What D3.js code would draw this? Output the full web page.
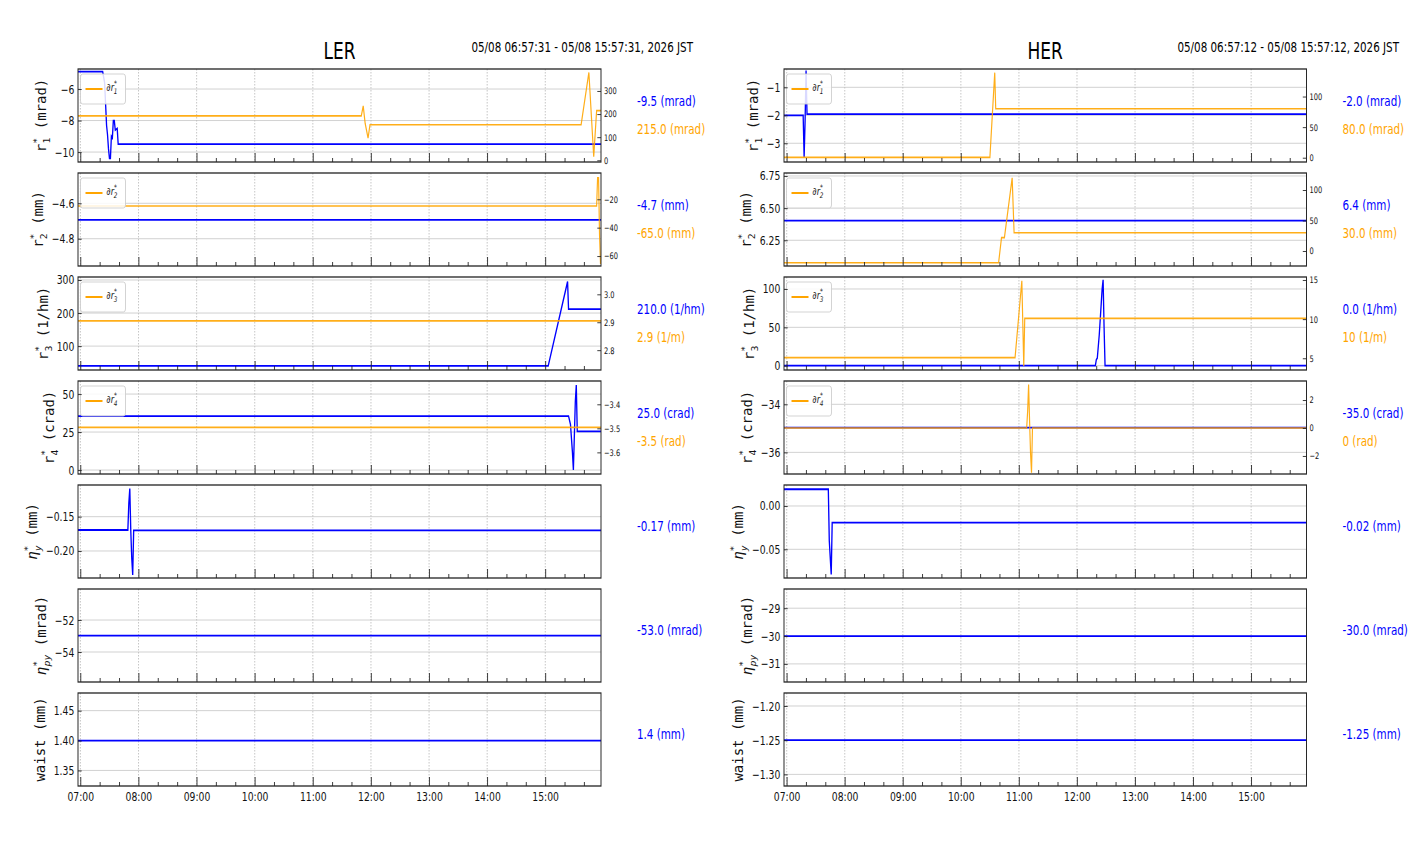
<!DOCTYPE html>
<html>
<head>
<meta charset="utf-8">
<script src="https://cdn.jsdelivr.net/npm/d3@7"></script>
<style>
    body { margin: 0; background: #fff; }
    text { font-family: "DejaVu Sans", sans-serif; }
</style>
</head>
<body>
<svg id="chart"></svg>
<script>
// Data //
const lerRange = ['06:57:31', '15:57:31']
const herRange = ['06:57:12', '15:57:12']
const lerDate = '05/08 06:57:31 - 05/08 15:57:31, 2026 JST'
const herDate = '05/08 06:57:12 - 05/08 15:57:12, 2026 JST'

// LER, blue = left axis, orange = twin axis
const lerR1 = [['06:57', -4.9], ['07:23', -4.9], ['07:25', -5.6], ['07:27', -8.3], ['07:28', -8.9],
    ['07:29', -9.8], ['07:30', -10.4], ['07:31', -10.4], ['07:32', -9.0], ['07:33', -9.1],
    ['07:34', -8.0], ['07:35', -8.0], ['07:36', -8.6], ['07:38', -8.5], ['07:39', -9.5], ['15:58', -9.5]]
const lerDR1 = [['06:57', 192], ['11:50', 192], ['11:52', 235], ['11:54', 160], ['11:57', 96],
    ['11:59', 154], ['15:37', 154], ['15:45', 380], ['15:50', 16], ['15:53', 215], ['15:58', 215]]
const lerR2 = [['06:57', -4.694], ['15:58', -4.694]]
const lerDR2 = [['06:57', -24.7], ['15:53', -24.7], ['15:54', -4.8], ['15:55', -4.8], ['15:56', -45],
    ['15:57', -65], ['15:58', -65]]
const lerR3 = [['06:57', 40], ['15:03', 40], ['15:23', 295], ['15:24', 212], ['15:58', 212]]
const lerDR3 = [['06:57', 2.905], ['15:58', 2.905]]
const lerR4 = [['06:57', 35.5], ['15:24', 35.5], ['15:26', 30], ['15:28', 12], ['15:29', 0],
    ['15:31', 45], ['15:32', 56], ['15:33', 25.5], ['15:58', 25.5]]
const lerDR4 = [['06:57', -3.496], ['15:58', -3.496]]
const lerEtaY = [['06:57', -0.1694], ['07:49', -0.1694], ['07:50', -0.13], ['07:51', -0.109], ['07:52', -0.17],
    ['07:53', -0.21], ['07:54', -0.235], ['07:55', -0.17], ['15:58', -0.17]]
const lerEtaPy = [['06:57', -52.98], ['15:58', -52.98]]
const lerWaist = [['06:57', 1.40], ['15:58', 1.40]]

// HER
const herR1 = [['06:57', -2.0], ['07:17', -2.0], ['07:18', -3.5], ['07:19', -2.2], ['07:20', -0.4],
    ['07:21', -1.96], ['15:58', -1.96]]
const herDR1 = [['06:57', 0.5], ['10:30', 0.5], ['10:35', 139], ['10:36', 80], ['15:58', 80]]
const herR2 = [['06:57', 6.402], ['15:58', 6.402]]
const herDR2 = [['06:57', -19.2], ['10:39', -19.2], ['10:42', 22], ['10:45', 22], ['10:53', 120],
    ['10:55', 30], ['15:58', 30]]
const herR3 = [['06:57', 0], ['12:19', 0], ['12:20', 8], ['12:21', 10], ['12:23', 40], ['12:25', 80],
    ['12:26', 100], ['12:27', 112], ['12:28', 50], ['12:29', 0], ['15:58', 0]]
const herDR3 = [['06:57', 5.08], ['10:56', 5.08], ['11:03', 14.9], ['11:05', 4.0], ['11:06', 10.1], ['15:58', 10.1]]
const herR4 = [['06:57', -34.97], ['15:58', -34.97]]
const herDR4 = [['06:57', 0], ['11:08', 0], ['11:09', 1.2], ['11:10', 3.1], ['11:11', 0.5], ['11:12', -1.8],
    ['11:13', -3.2], ['11:14', 0], ['15:58', 0]]
const herEtaY = [['06:57', 0.0193], ['07:43', 0.0193], ['07:44', -0.04], ['07:45', -0.06], ['07:46', -0.079],
    ['07:47', -0.0192], ['15:58', -0.0192]]
const herEtaPy = [['06:57', -30], ['15:58', -30]]
const herWaist = [['06:57', -1.25], ['15:58', -1.25]]

// Axis limits and ticks
const lerLeftLimits = [[-10.63, -4.73], [-4.954, -4.429], [27.7, 309], [-2.6, 58.6], [-0.2394, -0.1038], [-55.875, -50.06], [1.324, 1.4795]]
const lerRightLimits = [[-7.4, 395], [-67, -1.5], [2.729, 3.062], [-3.69, -3.303]]
const herLeftLimits = [[-3.67, -0.346], [6.05, 6.773], [-5.6, 115.6], [-36.9, -33.03], [-0.0831, 0.0242], [-31.65, -28.31], [-1.317, -1.181]]
const herRightLimits = [[-7, 145], [-24.6, 127.9], [3.5, 15.38], [-3.29, 3.36]]

const lerLeftTicks = [[-10, -8, -6], [-4.8, -4.6], [100, 200, 300], [0, 25, 50], [-0.20, -0.15], [-54, -52], [1.35, 1.40, 1.45]]
const lerLeftFormats = ['d', '.1f', 'd', 'd', '.2f', 'd', '.2f']
const lerRightTicks = [[0, 100, 200, 300], [-60, -40, -20], [2.8, 2.9, 3.0], [-3.6, -3.5, -3.4]]
const lerRightFormats = ['d', 'd', '.1f', '.1f']
const herLeftTicks = [[-3, -2, -1], [6.25, 6.5, 6.75], [0, 50, 100], [-36, -34], [-0.05, 0], [-31, -30, -29], [-1.30, -1.25, -1.20]]
const herLeftFormats = ['d', '.2f', 'd', 'd', '.2f', 'd', '.2f']
const herRightTicks = [[0, 50, 100], [0, 50, 100], [5, 10, 15], [-2, 0, 2]]
const herRightFormats = ['d', 'd', 'd', 'd']

// Labels
const yLabelBase = ['r', 'r', 'r', 'r', 'η', 'η', 'waist']
const yLabelSub = ['1', '2', '3', '4', 'y', 'py', '']
const yLabelUnit = ['mrad', 'mm', '1/hm', 'crad', 'mm', 'mrad', 'mm']
const lerBlueValues = ['-9.5 (mrad)', '-4.7 (mm)', '210.0 (1/hm)', '25.0 (crad)', '-0.17 (mm)', '-53.0 (mrad)', '1.4 (mm)']
const lerOrangeValues = ['215.0 (mrad)', '-65.0 (mm)', '2.9 (1/m)', '-3.5 (rad)']
const herBlueValues = ['-2.0 (mrad)', '6.4 (mm)', '0.0 (1/hm)', '-35.0 (crad)', '-0.02 (mm)', '-30.0 (mrad)', '-1.25 (mm)']
const herOrangeValues = ['80.0 (mrad)', '30.0 (mm)', '10 (1/m)', '0 (rad)']

// Layout //
// the original figure is squashed horizontally, so draw wide and scale x
const SX = 0.74
const vx = px => px / SX
const PANEL_TOP = 69
const PANEL_STEP = 104
const PANEL_H = 93
const BLUE = '#0000ff'
const ORANGE = '#ffa500'

const svg = d3.select('#chart').attr('width', 1412).attr('height', 864)
const root = svg.append('g').attr('transform', `scale(${SX},1)`)

const parseTime = s => d3.timeParse(s.length > 5 ? '%H:%M:%S' : '%H:%M')(s)

const columns = [
    {
        name: 'LER', range: lerRange, date: lerDate, left: vx(78), right: vx(601), dateRight: vx(693),
        blue: [lerR1, lerR2, lerR3, lerR4, lerEtaY, lerEtaPy, lerWaist],
        orange: [lerDR1, lerDR2, lerDR3, lerDR4],
        leftLimits: lerLeftLimits, rightLimits: lerRightLimits,
        leftTicks: lerLeftTicks, leftFormats: lerLeftFormats,
        rightTicks: lerRightTicks, rightFormats: lerRightFormats,
        blueValues: lerBlueValues, orangeValues: lerOrangeValues,
    },
    {
        name: 'HER', range: herRange, date: herDate, left: vx(784), right: vx(1306.5), dateRight: vx(1399),
        blue: [herR1, herR2, herR3, herR4, herEtaY, herEtaPy, herWaist],
        orange: [herDR1, herDR2, herDR3, herDR4],
        leftLimits: herLeftLimits, rightLimits: herRightLimits,
        leftTicks: herLeftTicks, leftFormats: herLeftFormats,
        rightTicks: herRightTicks, rightFormats: herRightFormats,
        blueValues: herBlueValues, orangeValues: herOrangeValues,
    },
]

// Helpers //
const styleAxis = (sel, size) => {
    sel.select('.domain').remove()
    sel.attr('font-family', null).attr('font-size', null)
    sel.selectAll('line').attr('stroke', '#222')
    sel.selectAll('text').attr('font-size', size).style('fill', '#111')
}

const appendScripted = (text, base, sub, size, italic) => {
    text.append('tspan').attr('font-style', italic ? 'italic' : null).text(base)
    if (sub === '') return
    text.append('tspan').attr('dy', -size * 0.42).attr('font-size', size * 0.7).text('*')
    text.append('tspan').attr('dx', -size * 0.4).attr('dy', size * 0.72)
        .attr('font-size', size * 0.7).attr('font-style', italic ? 'italic' : null).text(sub)
}

const valueLabel = (g, x, y, color, label) => {
    g.append('text')
        .attr('x', x).attr('y', y).attr('dy', '0.35em')
        .attr('font-size', 14).style('fill', color)
        .text(label)
}

// Drawers //
const drawColumn = (col) => {
    const x = d3.scaleTime().domain(col.range.map(parseTime)).range([col.left, col.right])
    const hours = x.ticks(d3.timeHour.every(1))
    const minors = x.ticks(d3.timeMinute.every(20)).filter(d => d.getMinutes() !== 0)
    const line = y => d3.line().x(d => x(parseTime(d[0]))).y(d => y(d[1]))
    const labelX = col.right + vx(36)

    root.append('text')
        .attr('x', (col.left + col.right) / 2).attr('y', 59)
        .attr('text-anchor', 'middle').attr('font-size', 23)
        .text(col.name)
    root.append('text')
        .attr('x', col.dateRight).attr('y', 52)
        .attr('text-anchor', 'end').attr('font-size', 14)
        .text(col.date)

    col.blue.forEach((series, i) => {
        const top = PANEL_TOP + i * PANEL_STEP
        const bottom = top + PANEL_H
        const isLast = i === col.blue.length - 1
        const g = root.append('g')
        const y = d3.scaleLinear().domain(col.leftLimits[i]).range([bottom, top])
        const clipId = `clip-${col.name}-${i}`

        g.append('clipPath').attr('id', clipId)
            .append('rect')
            .attr('x', col.left).attr('y', top)
            .attr('width', col.right - col.left).attr('height', PANEL_H)

        // grid
        g.selectAll('.hgrid').data(col.leftTicks[i]).join('line')
            .attr('class', 'hgrid')
            .attr('x1', col.left).attr('x2', col.right)
            .attr('y1', d => y(d)).attr('y2', d => y(d))
            .attr('stroke', '#c4c4c4').attr('stroke-width', 0.9)
        g.selectAll('.vgrid').data(hours).join('line')
            .attr('class', 'vgrid')
            .attr('x1', d => x(d)).attr('x2', d => x(d))
            .attr('y1', top).attr('y2', bottom)
            .attr('stroke', '#bdbdbd').attr('stroke-width', 1).attr('stroke-dasharray', '1.5,1.5')

        g.append('path').datum(series)
            .attr('clip-path', `url(#${clipId})`)
            .attr('d', line(y))
            .attr('fill', 'none').attr('stroke', BLUE).attr('stroke-width', 1.8)

        const orange = col.orange[i]
        if (orange) {
            const yR = d3.scaleLinear().domain(col.rightLimits[i]).range([bottom, top])
            g.append('path').datum(orange)
                .attr('clip-path', `url(#${clipId})`)
                .attr('d', line(yR))
                .attr('fill', 'none').attr('stroke', ORANGE).attr('stroke-width', 1.6)
                .attr('stroke-opacity', 0.9)

            g.append('g')
                .attr('transform', `translate(${col.right},0)`)
                .call(d3.axisRight(yR).tickValues(col.rightTicks[i])
                    .tickFormat(d3.format(col.rightFormats[i])).tickSize(-5).tickPadding(4))
                .call(styleAxis, 9)

            // legend
            const lx = col.left + vx(2.5)
            const ly = top + 5
            g.append('rect')
                .attr('x', lx).attr('y', ly).attr('width', vx(45)).attr('height', 30).attr('rx', 3)
                .attr('fill', '#fff').attr('fill-opacity', 0.85).attr('stroke', '#cccccc')
            g.append('line')
                .attr('x1', lx + vx(5)).attr('x2', lx + vx(22)).attr('y1', ly + 15).attr('y2', ly + 15)
                .attr('stroke', ORANGE).attr('stroke-width', 2)
            const lt = g.append('text')
                .attr('x', lx + vx(26)).attr('y', ly + 17).attr('font-size', 11).style('fill', '#222')
            appendScripted(lt, '∂r', String(i + 1), 11, true)

            valueLabel(g, labelX, top + 0.345 * PANEL_H, BLUE, col.blueValues[i])
            valueLabel(g, labelX, top + 0.645 * PANEL_H, ORANGE, col.orangeValues[i])
        } else {
            valueLabel(g, labelX, top + 0.44 * PANEL_H, BLUE, col.blueValues[i])
        }

        // frame
        g.append('rect')
            .attr('x', col.left).attr('y', top)
            .attr('width', col.right - col.left).attr('height', PANEL_H)
            .attr('fill', 'none').attr('stroke', '#222').attr('stroke-width', 1.3)

        const leftAxis = g.append('g')
            .attr('transform', `translate(${col.left},0)`)
            .call(d3.axisLeft(y).tickValues(col.leftTicks[i])
                .tickFormat(d3.format(col.leftFormats[i])).tickSize(-5).tickPadding(5))
            .call(styleAxis, 12.5)

        g.append('g')
            .attr('transform', `translate(0,${bottom})`)
            .call(d3.axisBottom(x).tickValues(hours)
                .tickFormat(isLast ? d3.timeFormat('%H:%M') : () => '')
                .tickSize(-9).tickPadding(6))
            .call(styleAxis, 12.5)
        g.append('g')
            .attr('transform', `translate(0,${bottom})`)
            .call(d3.axisBottom(x).tickValues(minors).tickFormat(() => '').tickSize(-4))
            .call(styleAxis, 12)

        // y label sits just left of the widest tick label, like matplotlib
        const tickLeft = col.left + leftAxis.node().getBBox().x
        const yl = g.append('text')
            .attr('transform', `translate(${tickLeft - vx(9)},${top + PANEL_H / 2}) rotate(-90) scale(1,1.3)`)
            .attr('text-anchor', 'middle').attr('font-size', 14)
            .style('font-family', '"DejaVu Sans Mono", monospace').style('fill', '#111')
        appendScripted(yl, yLabelBase[i], yLabelSub[i], 14, yLabelBase[i] === 'η')
        yl.append('tspan')
            .attr('dy', yLabelSub[i] === '' ? 0 : -14 * 0.3)
            .text(` (${yLabelUnit[i]})`)
    })
}

columns.forEach(drawColumn)
</script>
</body>
</html>
